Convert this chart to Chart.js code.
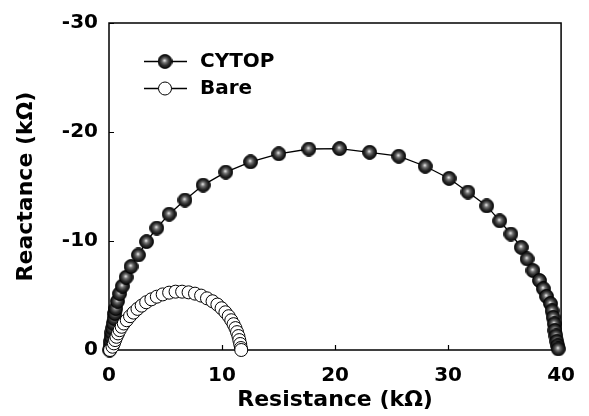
<!DOCTYPE html>
<html>
<head>
<meta charset="utf-8">
<title>Impedance - CYTOP vs Bare</title>
<script src="https://cdn.jsdelivr.net/npm/chart.js@4/dist/chart.umd.min.js"></script>
<style>
  html, body { margin: 0; padding: 0; background: #fff; }
</style>
</head>
<body>
<canvas id="nyquist" width="589" height="416"></canvas>
<script>
// Resistance / reactance (kOhm)
const cytopRe = [0.05, 0.10, 0.15, 0.20, 0.26, 0.32, 0.38, 0.45, 0.52, 0.60,
  0.75, 0.94, 1.18, 1.52, 1.95, 2.60, 3.32, 4.23, 5.32, 6.72,
  8.33, 10.33, 12.53, 15.02, 17.68, 20.40, 23.06, 25.64, 27.98, 30.09,
  31.76, 33.42, 34.57, 35.56, 36.48, 36.99, 37.51, 38.09, 38.43, 38.71,
  39.06, 39.20, 39.30, 39.40, 39.45, 39.55, 39.62, 39.70, 39.75];
const cytopIm = [0, -0.40, -0.80, -1.20, -1.60, -2.00, -2.45, -2.90, -3.35, -3.80,
  -4.47, -5.17, -5.86, -6.68, -7.66, -8.72, -9.94, -11.19, -12.46, -13.76,
  -15.13, -16.32, -17.26, -18.00, -18.44, -18.48, -18.14, -17.78, -16.86, -15.74,
  -14.49, -13.22, -11.85, -10.64, -9.42, -8.36, -7.29, -6.38, -5.63, -4.92,
  -4.26, -3.60, -3.00, -2.40, -1.80, -1.30, -0.80, -0.40, -0.10];

const bareRe = [0.09, 0.31, 0.43, 0.54, 0.66, 0.80, 0.94, 1.12, 1.31, 1.57,
  1.86, 2.17, 2.52, 2.89, 3.29, 3.75, 4.23, 4.75, 5.32, 5.89,
  6.47, 7.04, 7.61, 8.15, 8.67, 9.16, 9.59, 9.96, 10.30, 10.59,
  10.82, 11.02, 11.19, 11.33, 11.45, 11.53, 11.61, 11.67, 11.70];
const bareIm = [0, -0.30, -0.61, -0.91, -1.21, -1.52, -1.82, -2.13, -2.43, -2.73,
  -3.10, -3.43, -3.77, -4.07, -4.38, -4.65, -4.89, -5.10, -5.26, -5.35,
  -5.35, -5.29, -5.17, -4.99, -4.74, -4.47, -4.17, -3.83, -3.46, -3.10,
  -2.73, -2.37, -2.01, -1.64, -1.28, -0.91, -0.55, -0.18, 0];

const seriesNames = ['CYTOP', 'Bare'];
const xTicks = [0, 10, 20, 30, 40];
const yTicks = [0, -10, -20, -30];

const FONT = '"DejaVu Sans", sans-serif';

// shaded sphere sprite used for the CYTOP markers
function makeBall(d) {
  const c = document.createElement('canvas');
  c.width = c.height = d;
  const g = c.getContext('2d');
  const r = d / 2;
  const grad = g.createRadialGradient(r - 0.5, r - 1, 0.3, r, r, r);
  grad.addColorStop(0, '#e6e6e6');
  grad.addColorStop(0.25, '#767676');
  grad.addColorStop(0.6, '#2c2c2c');
  grad.addColorStop(1, '#050505');
  g.fillStyle = grad;
  g.beginPath();
  g.arc(r, r, r - 0.6, 0, Math.PI * 2);
  g.fill();
  g.strokeStyle = '#000';
  g.lineWidth = 1;
  g.stroke();
  return c;
}
const ball = makeBall(15);

const toPoints = (xs, ys) => xs.map((x, i) => ({ x, y: ys[i] }));

// full frame + inward ticks on bottom/left
const framePlugin = {
  id: 'frame',
  beforeDatasetsDraw(chart) {
    const { ctx, chartArea: a, scales: { x, y } } = chart;
    ctx.save();
    ctx.strokeStyle = '#000';
    ctx.lineWidth = 1.5;
    ctx.strokeRect(a.left, a.top, a.right - a.left, a.bottom - a.top);
    ctx.lineWidth = 1.2;
    ctx.beginPath();
    xTicks.forEach(v => {
      const px = Math.round(x.getPixelForValue(v)) + 0.5;
      ctx.moveTo(px, a.bottom);
      ctx.lineTo(px, a.bottom - 5);
    });
    yTicks.forEach(v => {
      const py = Math.round(y.getPixelForValue(v)) + 0.5;
      ctx.moveTo(a.left, py);
      ctx.lineTo(a.left + 5, py);
    });
    ctx.stroke();
    ctx.restore();
  }
};

// legend with line-marker-line symbols
const legendPlugin = {
  id: 'nyqLegend',
  afterDraw(chart) {
    const { ctx } = chart;
    const rows = [{ y: 61, ball: true }, { y: 88, ball: false }];
    ctx.save();
    ctx.font = 'bold 20px ' + FONT;
    ctx.textBaseline = 'middle';
    ctx.fillStyle = '#000';
    rows.forEach((row, i) => {
      ctx.strokeStyle = '#000';
      ctx.lineWidth = 1.3;
      ctx.beginPath();
      ctx.moveTo(144, row.y + 0.5);
      ctx.lineTo(187, row.y + 0.5);
      ctx.stroke();
      if (row.ball) {
        ctx.drawImage(ball, 165 - 7.5, row.y - 7);
      } else {
        ctx.beginPath();
        ctx.arc(165, row.y + 0.5, 6.5, 0, Math.PI * 2);
        ctx.fillStyle = '#fff';
        ctx.fill();
        ctx.lineWidth = 1;
        ctx.stroke();
        ctx.fillStyle = '#000';
      }
      ctx.fillText(seriesNames[i], 200, row.y + 1);
    });
    ctx.restore();
  }
};

new Chart(document.getElementById('nyquist'), {
  type: 'scatter',
  data: {
    datasets: [
      {
        label: seriesNames[0],
        data: toPoints(cytopRe, cytopIm),
        showLine: true,
        borderColor: '#000',
        borderWidth: 1.3,
        pointStyle: ball,
        pointRadius: 7,
        clip: false,
        order: 2
      },
      {
        label: seriesNames[1],
        data: toPoints(bareRe, bareIm),
        showLine: true,
        borderColor: '#000',
        borderWidth: 1.3,
        backgroundColor: '#fff',
        pointBackgroundColor: '#fff',
        pointBorderColor: '#000',
        pointBorderWidth: 1,
        pointRadius: 6.5,
        clip: false,
        order: 1
      }
    ]
  },
  options: {
    responsive: false,
    animation: false,
    layout: { padding: { left: 0, right: 14, top: 21, bottom: 0 } },
    plugins: { legend: { display: false }, tooltip: { enabled: false } },
    scales: {
      x: {
        type: 'linear',
        min: 0,
        max: 40,
        afterBuildTicks: s => { s.ticks = xTicks.map(v => ({ value: v })); },
        afterFit: s => { s.height = 66; },
        grid: { display: false, drawTicks: false },
        border: { display: false },
        ticks: { padding: 14, color: '#000', font: { family: FONT, size: 20, weight: 'bold' } },
        title: {
          display: true,
          text: 'Resistance (kΩ)',
          color: '#000',
          font: { family: FONT, size: 22, weight: 'bold' },
          padding: { top: 0, bottom: 3 }
        }
      },
      y: {
        type: 'linear',
        min: -30,
        max: 0,
        reverse: true,
        afterBuildTicks: s => { s.ticks = yTicks.map(v => ({ value: v })); },
        afterFit: s => { s.width = 109; },
        grid: { display: false, drawTicks: false },
        border: { display: false },
        ticks: { padding: 11, color: '#000', font: { family: FONT, size: 20, weight: 'bold' } },
        title: {
          display: true,
          text: 'Reactance (kΩ)',
          color: '#000',
          font: { family: FONT, size: 22, weight: 'bold' },
          padding: { top: 13, bottom: 0 }
        }
      }
    }
  },
  plugins: [framePlugin, legendPlugin]
});
</script>
</body>
</html>
